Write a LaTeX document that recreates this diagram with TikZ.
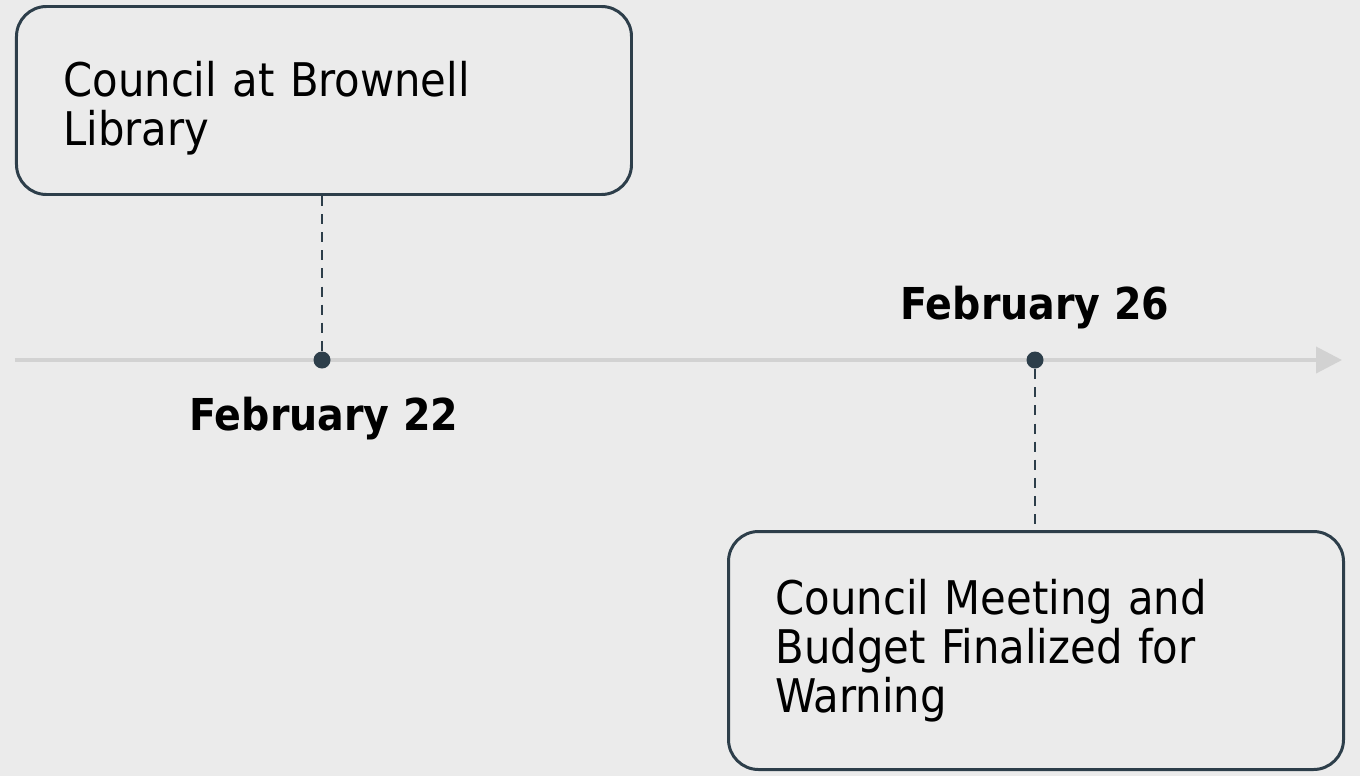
\documentclass[tikz,border=0pt]{standalone}
\usepackage{fontspec}
\setmainfont{DejaVu Sans Condensed}
\usepackage{tikz}
\usetikzlibrary{shapes, arrows.meta}
\definecolor{bgcol}{HTML}{EBEBEB}
\definecolor{slate}{HTML}{2D3E4A}
\definecolor{axis}{HTML}{D2D2D2}
\tikzstyle{event} = [rectangle, rounded corners=0.3cm, minimum width=6.15cm, text width=5.21cm, inner xsep=0.47cm, align=left, draw=slate, line width=0.85pt, fill=bgcol, font=\fontsize{13.2}{13.9}\selectfont]
\tikzstyle{datelabel} = [font=\fontsize{12.5}{14}\selectfont\bfseries, text=black]
\tikzstyle{dot} = [circle, fill=slate, minimum size=0.17cm, inner sep=0pt]
\tikzstyle{edge} = [slate, line width=0.75pt, dash pattern=on 2.85pt off 2.3pt]

\begin{document}
\begin{tikzpicture}
\fill [bgcol] (0,0) rectangle (13.6,-7.76);
\useasboundingbox (0,0) rectangle (13.6,-7.76);

\coordinate (start) at (0.15,-3.6);
\coordinate (end) at (13.42,-3.6);
\draw [axis, line width=1.1pt, -{Triangle[length=0.26cm, width=0.26cm]}] (start) -- (end);

\node (0) [event, minimum height=1.88cm, anchor=north west] at (0.15,-0.05) {\rule{0pt}{14.6pt}Council at Brownell\\Library};
\node (1) [event, minimum height=2.38cm, anchor=north west] at (7.27,-5.3) {Council Meeting and\\Budget Finalized for\\Warning};

\node (2) [dot] at (3.22,-3.6) {};
\node (3) [dot] at (10.35,-3.6) {};

\node (4) [datelabel] at (3.24,-4.19) {February 22};
\node (5) [datelabel] at (10.35,-3.08) {February 26};

\draw [edge] (0.south -| 2) -- (2);
\draw [edge] (3) -- (1.north -| 3);

\end{tikzpicture}
\end{document}
